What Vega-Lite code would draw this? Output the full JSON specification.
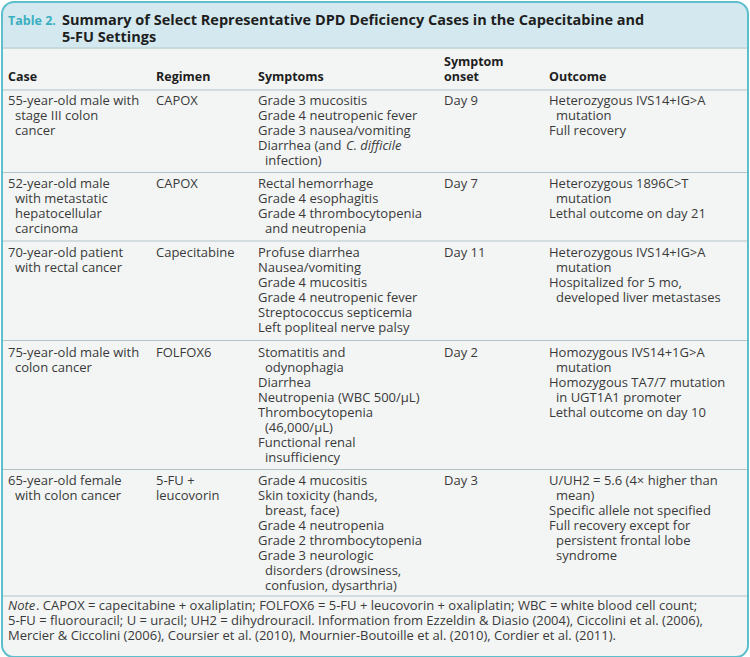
{
  "$schema": "https://vega.github.io/schema/vega-lite/v6.json",
  "width": 750,
  "height": 657,
  "padding": 1,
  "autosize": {"type": "fit", "contains": "padding"},
  "background": "#ffffff",
  "config": {"view": {"stroke": null}},
  "datasets": {
    "cells": [
      {"line": 0, "col": 0, "kind": "tlabel", "text": "Table 2."},
      {"line": 0, "col": 0, "kind": "title", "text": "Summary of Select Representative DPD Deficiency Cases in the Capecitabine and"},
      {"line": 1, "col": 0, "kind": "title", "text": "5-FU Settings"},
      {"line": 3, "col": 0, "kind": "head", "text": "Case"},
      {"line": 3, "col": 1, "kind": "head", "text": "Regimen"},
      {"line": 3, "col": 2, "kind": "head", "text": "Symptoms"},
      {"line": 2, "col": 3, "kind": "head", "text": "Symptom"},
      {"line": 3, "col": 3, "kind": "head", "text": "onset"},
      {"line": 3, "col": 4, "kind": "head", "text": "Outcome"},

      {"line": 4, "col": 0, "kind": "b", "text": "55-year-old male with"},
      {"line": 5, "col": 0, "kind": "bi", "text": "stage III colon"},
      {"line": 6, "col": 0, "kind": "bi", "text": "cancer"},
      {"line": 4, "col": 1, "kind": "b", "text": "CAPOX"},
      {"line": 4, "col": 2, "kind": "b", "text": "Grade 3 mucositis"},
      {"line": 5, "col": 2, "kind": "b", "text": "Grade 4 neutropenic fever"},
      {"line": 6, "col": 2, "kind": "b", "text": "Grade 3 nausea/vomiting"},
      {"line": 7, "col": 2, "kind": "b", "text": "Diarrhea (and "},
      {"line": 7, "col": 2, "kind": "bit", "text": "C. difficile"},
      {"line": 8, "col": 2, "kind": "bi", "text": "infection)"},
      {"line": 4, "col": 3, "kind": "b", "text": "Day 9"},
      {"line": 4, "col": 4, "kind": "b", "text": "Heterozygous IVS14+IG>A"},
      {"line": 5, "col": 4, "kind": "bi", "text": "mutation"},
      {"line": 6, "col": 4, "kind": "b", "text": "Full recovery"},

      {"line": 9, "col": 0, "kind": "b", "text": "52-year-old male"},
      {"line": 10, "col": 0, "kind": "bi", "text": "with metastatic"},
      {"line": 11, "col": 0, "kind": "bi", "text": "hepatocellular"},
      {"line": 12, "col": 0, "kind": "bi", "text": "carcinoma"},
      {"line": 9, "col": 1, "kind": "b", "text": "CAPOX"},
      {"line": 9, "col": 2, "kind": "b", "text": "Rectal hemorrhage"},
      {"line": 10, "col": 2, "kind": "b", "text": "Grade 4 esophagitis"},
      {"line": 11, "col": 2, "kind": "b", "text": "Grade 4 thrombocytopenia"},
      {"line": 12, "col": 2, "kind": "bi", "text": "and neutropenia"},
      {"line": 9, "col": 3, "kind": "b", "text": "Day 7"},
      {"line": 9, "col": 4, "kind": "b", "text": "Heterozygous 1896C>T"},
      {"line": 10, "col": 4, "kind": "bi", "text": "mutation"},
      {"line": 11, "col": 4, "kind": "b", "text": "Lethal outcome on day 21"},

      {"line": 13, "col": 0, "kind": "b", "text": "70-year-old patient"},
      {"line": 14, "col": 0, "kind": "bi", "text": "with rectal cancer"},
      {"line": 13, "col": 1, "kind": "b", "text": "Capecitabine"},
      {"line": 13, "col": 2, "kind": "b", "text": "Profuse diarrhea"},
      {"line": 14, "col": 2, "kind": "b", "text": "Nausea/vomiting"},
      {"line": 15, "col": 2, "kind": "b", "text": "Grade 4 mucositis"},
      {"line": 16, "col": 2, "kind": "b", "text": "Grade 4 neutropenic fever"},
      {"line": 17, "col": 2, "kind": "b", "text": "Streptococcus septicemia"},
      {"line": 18, "col": 2, "kind": "b", "text": "Left popliteal nerve palsy"},
      {"line": 13, "col": 3, "kind": "b", "text": "Day 11"},
      {"line": 13, "col": 4, "kind": "b", "text": "Heterozygous IVS14+IG>A"},
      {"line": 14, "col": 4, "kind": "bi", "text": "mutation"},
      {"line": 15, "col": 4, "kind": "b", "text": "Hospitalized for 5 mo,"},
      {"line": 16, "col": 4, "kind": "bi", "text": "developed liver metastases"},

      {"line": 19, "col": 0, "kind": "b", "text": "75-year-old male with"},
      {"line": 20, "col": 0, "kind": "bi", "text": "colon cancer"},
      {"line": 19, "col": 1, "kind": "b", "text": "FOLFOX6"},
      {"line": 19, "col": 2, "kind": "b", "text": "Stomatitis and"},
      {"line": 20, "col": 2, "kind": "bi", "text": "odynophagia"},
      {"line": 21, "col": 2, "kind": "b", "text": "Diarrhea"},
      {"line": 22, "col": 2, "kind": "b", "text": "Neutropenia (WBC 500/µL)"},
      {"line": 23, "col": 2, "kind": "b", "text": "Thrombocytopenia"},
      {"line": 24, "col": 2, "kind": "bi", "text": "(46,000/µL)"},
      {"line": 25, "col": 2, "kind": "b", "text": "Functional renal"},
      {"line": 26, "col": 2, "kind": "bi", "text": "insufficiency"},
      {"line": 19, "col": 3, "kind": "b", "text": "Day 2"},
      {"line": 19, "col": 4, "kind": "b", "text": "Homozygous IVS14+1G>A"},
      {"line": 20, "col": 4, "kind": "bi", "text": "mutation"},
      {"line": 21, "col": 4, "kind": "b", "text": "Homozygous TA7/7 mutation"},
      {"line": 22, "col": 4, "kind": "bi", "text": "in UGT1A1 promoter"},
      {"line": 23, "col": 4, "kind": "b", "text": "Lethal outcome on day 10"},

      {"line": 27, "col": 0, "kind": "b", "text": "65-year-old female"},
      {"line": 28, "col": 0, "kind": "bi", "text": "with colon cancer"},
      {"line": 27, "col": 1, "kind": "b", "text": "5-FU +"},
      {"line": 28, "col": 1, "kind": "b", "text": "leucovorin"},
      {"line": 27, "col": 2, "kind": "b", "text": "Grade 4 mucositis"},
      {"line": 28, "col": 2, "kind": "b", "text": "Skin toxicity (hands,"},
      {"line": 29, "col": 2, "kind": "bi", "text": "breast, face)"},
      {"line": 30, "col": 2, "kind": "b", "text": "Grade 4 neutropenia"},
      {"line": 31, "col": 2, "kind": "b", "text": "Grade 2 thrombocytopenia"},
      {"line": 32, "col": 2, "kind": "b", "text": "Grade 3 neurologic"},
      {"line": 33, "col": 2, "kind": "bi", "text": "disorders (drowsiness,"},
      {"line": 34, "col": 2, "kind": "bi", "text": "confusion, dysarthria)"},
      {"line": 27, "col": 3, "kind": "b", "text": "Day 3"},
      {"line": 27, "col": 4, "kind": "b", "text": "U/UH2 = 5.6 (4× higher than"},
      {"line": 28, "col": 4, "kind": "bi", "text": "mean)"},
      {"line": 29, "col": 4, "kind": "b", "text": "Specific allele not specified"},
      {"line": 30, "col": 4, "kind": "b", "text": "Full recovery except for"},
      {"line": 31, "col": 4, "kind": "bi", "text": "persistent frontal lobe"},
      {"line": 32, "col": 4, "kind": "bi", "text": "syndrome"},

      {"line": 35, "col": 0, "kind": "ni", "text": "Note"},
      {"line": 35, "col": 0, "kind": "n1", "text": ". CAPOX = capecitabine + oxaliplatin; FOLFOX6 = 5-FU + leucovorin + oxaliplatin; WBC = white blood cell count;"},
      {"line": 36, "col": 0, "kind": "n", "text": "5-FU = fluorouracil; U = uracil; UH2 = dihydrouracil. Information from Ezzeldin & Diasio (2004), Ciccolini et al. (2006),"},
      {"line": 37, "col": 0, "kind": "n", "text": "Mercier & Ciccolini (2006), Coursier et al. (2010), Mournier-Boutoille et al. (2010), Cordier et al. (2011)."}
    ]
  },
  "encoding": {
    "y": {
      "field": "line",
      "type": "quantitative",
      "axis": null,
      "scale": {
        "zero": false,
        "nice": false,
        "domain": [-1, 0, 1, 2, 3, 4, 8, 9, 12, 13, 18, 19, 26, 27, 34, 35, 37, 38],
        "range": [0, 19, 36, 60, 75, 99, 159, 182, 227, 251, 326, 351, 456, 479, 584, 604, 634, 655]
      }
    }
  },
  "layer": [
    {
      "data": {"values": [{"line": -1, "line2": 38}]},
      "mark": {"type": "rect", "fill": "#f3f5f5", "cornerRadius": 12},
      "encoding": {"y2": {"field": "line2"}}
    },
    {
      "data": {"values": [{"line": -1, "line2": 1.42}]},
      "mark": {"type": "rect", "fill": "#d4e9ef", "cornerRadiusTopLeft": 12, "cornerRadiusTopRight": 12},
      "encoding": {"y2": {"field": "line2"}}
    },
    {
      "data": {"values": [{"line": 1.42}, {"line": 3.54}, {"line": 8.5}, {"line": 12.5}, {"line": 18.5}, {"line": 26.5}, {"line": 34.5}]},
      "mark": {"type": "rule", "stroke": "#b3c4c8", "strokeWidth": 1},
      "encoding": {}
    },
    {
      "data": {"name": "cells"},
      "transform": [{"filter": "datum.kind == 'tlabel'"}],
      "mark": {"type": "text", "align": "left", "baseline": "middle", "font": "Open Sans", "fontSize": 12.5, "fontWeight": "bold", "fill": "#3aaec0"},
      "encoding": {
        "x": {"field": "col", "type": "quantitative", "axis": null, "scale": {"zero": false, "nice": false, "domain": [0, 1, 2, 3, 4], "range": [6, 154, 256, 442, 547]}},
        "text": {"field": "text"}
      }
    },
    {
      "data": {"name": "cells"},
      "transform": [{"filter": "datum.kind == 'title'"}],
      "mark": {"type": "text", "align": "left", "baseline": "middle", "font": "Open Sans", "fontSize": 14.5, "fontWeight": "bold", "fill": "#1e1e1e", "dx": 54},
      "encoding": {"x": {"field": "col", "type": "quantitative"}, "text": {"field": "text"}}
    },
    {
      "data": {"name": "cells"},
      "transform": [{"filter": "datum.kind == 'head'"}],
      "mark": {"type": "text", "align": "left", "baseline": "middle", "font": "Open Sans", "fontSize": 12.5, "fontWeight": "bold", "fill": "#1e1e1e"},
      "encoding": {"x": {"field": "col", "type": "quantitative"}, "text": {"field": "text"}}
    },
    {
      "data": {"name": "cells"},
      "transform": [{"filter": "datum.kind == 'b' || datum.kind == 'n'"}],
      "mark": {"type": "text", "align": "left", "baseline": "middle", "font": "Open Sans", "fontSize": 13, "fill": "#3a3a3a"},
      "encoding": {"x": {"field": "col", "type": "quantitative"}, "text": {"field": "text"}}
    },
    {
      "data": {"name": "cells"},
      "transform": [{"filter": "datum.kind == 'bi'"}],
      "mark": {"type": "text", "align": "left", "baseline": "middle", "font": "Open Sans", "fontSize": 13, "fill": "#3a3a3a", "dx": 7},
      "encoding": {"x": {"field": "col", "type": "quantitative"}, "text": {"field": "text"}}
    },
    {
      "data": {"name": "cells"},
      "transform": [{"filter": "datum.kind == 'bit'"}],
      "mark": {"type": "text", "align": "left", "baseline": "middle", "font": "Open Sans", "fontSize": 13, "fontStyle": "italic", "fill": "#3a3a3a", "dx": 88},
      "encoding": {"x": {"field": "col", "type": "quantitative"}, "text": {"field": "text"}}
    },
    {
      "data": {"name": "cells"},
      "transform": [{"filter": "datum.kind == 'ni'"}],
      "mark": {"type": "text", "align": "left", "baseline": "middle", "font": "Open Sans", "fontSize": 13, "fontStyle": "italic", "fill": "#3a3a3a"},
      "encoding": {"x": {"field": "col", "type": "quantitative"}, "text": {"field": "text"}}
    },
    {
      "data": {"name": "cells"},
      "transform": [{"filter": "datum.kind == 'n1'"}],
      "mark": {"type": "text", "align": "left", "baseline": "middle", "font": "Open Sans", "fontSize": 13, "fill": "#3a3a3a", "dx": 28},
      "encoding": {"x": {"field": "col", "type": "quantitative"}, "text": {"field": "text"}}
    },
    {
      "data": {"values": [{"line": -1, "line2": 38}]},
      "mark": {"type": "rect", "fillOpacity": 0, "fill": "#ffffff", "stroke": "#5cbfcb", "strokeWidth": 2, "cornerRadius": 12},
      "encoding": {"y2": {"field": "line2"}}
    }
  ]
}
